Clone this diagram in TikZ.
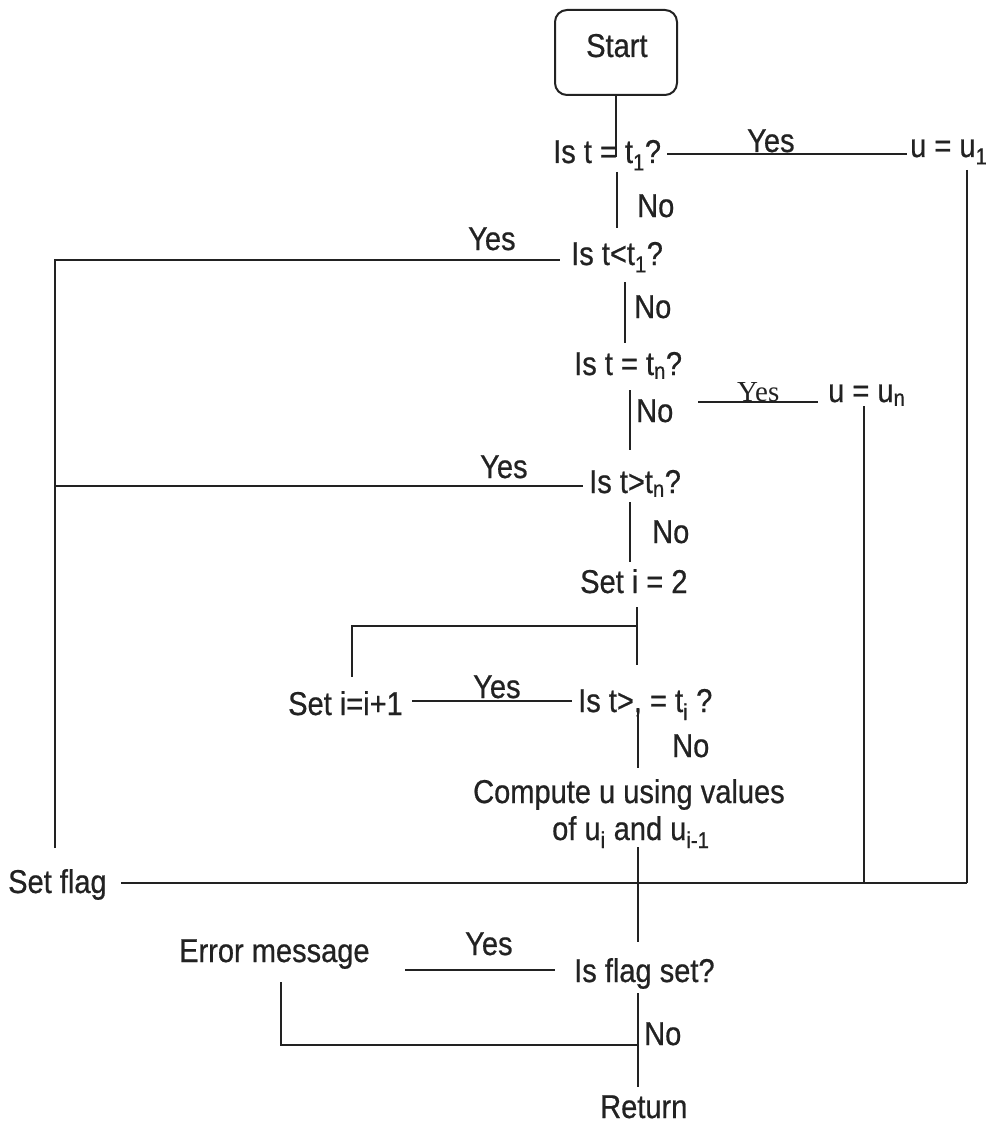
\documentclass[tikz,border=0pt]{standalone}
\usepackage{fontspec}
\setmainfont[FakeStretch=0.88,FakeBold=0.6]{Liberation Sans}
\newfontfamily\serifyes{Liberation Serif}
\definecolor{ink}{HTML}{222222}
\tikzset{
  txt/.style={anchor=base west, inner sep=0pt, text=ink, font=\fontsize{33}{36}\selectfont},
  styes/.style={anchor=base west, inner sep=0pt, text=ink, font=\serifyes\fontsize{29}{32}\selectfont},
  ln/.style={draw=ink, line width=2.2pt},
  startbox/.style={draw=ink, line width=2pt, rounded corners=12pt, minimum width=122pt, minimum height=85pt, inner sep=0pt}
}
\begin{document}
\begin{tikzpicture}[x=1pt,y=-1pt]
\fill[white] (0,0) rectangle (1000,1126);
\useasboundingbox (0,0) rectangle (1000,1126);

% nodes
\node[startbox] (start) at (616,52.5) {};
\node[txt] (starttxt) at (586,57) {Start};
\node[txt] (q1) at (553,163) {Is t = t\textsubscript{1}?};
\node[txt] (yes1) at (747,152) {Yes};
\node[txt] (u1) at (910,157) {u = u\textsubscript{1}};
\node[txt] (no1) at (637,217) {No};
\node[txt] (yes2) at (468,250) {Yes};
\node[txt] (q2) at (571,265) {Is t<t\textsubscript{1}?};
\node[txt] (no2) at (634,318) {No};
\node[txt] (q3) at (574,375) {Is t = t\textsubscript{n}?};
\node[txt] (no3) at (636,422) {No};
\node[styes] (yes3) at (737,401) {Yes};
\node[txt] (un) at (828,402) {u = u\textsubscript{n}};
\node[txt] (yes4) at (480,478) {Yes};
\node[txt] (q4) at (589,493) {Is t>t\textsubscript{n}?};
\node[txt] (no4) at (652,543) {No};
\node[txt] (seti) at (580,593) {Set i = 2};
\node[txt] (inc) at (288,715) {Set i=i+1};
\node[txt] (yes5) at (473,698) {Yes};
\node[txt] (q5) at (578,712) {Is t>, = t\textsubscript{i} ?};
\node[txt] (no5) at (672,757) {No};
\node[txt] (comp1) at (473,803) {Compute u using values};
\node[txt] (comp2) at (552,840) {of u\textsubscript{i} and u\textsubscript{i-1}};
\node[txt] (flag) at (8,893) {Set flag};
\node[txt] (err) at (179,962) {Error message};
\node[txt] (yes6) at (465,955) {Yes};
\node[txt] (q6) at (574,982) {Is flag set?};
\node[txt] (no6) at (644,1045) {No};
\node[txt] (ret) at (600,1118) {Return};

% junction coordinates
\coordinate (a1) at (616,157);
\coordinate (b1) at (667,154);
\coordinate (b2) at (907,154);
\coordinate (r1) at (967,170);
\coordinate (r2) at (967,883);
\coordinate (n1a) at (617,172);
\coordinate (n1b) at (617,228);
\coordinate (l1) at (55,260);
\coordinate (l1e) at (560,260);
\coordinate (l2) at (55,848);
\coordinate (n2a) at (625,282);
\coordinate (n2b) at (625,343);
\coordinate (n3a) at (630,390);
\coordinate (n3b) at (630,450);
\coordinate (y3a) at (698,402);
\coordinate (y3b) at (818,402);
\coordinate (v1) at (864,406);
\coordinate (v2) at (864,883);
\coordinate (l3) at (55,486);
\coordinate (l3e) at (583,486);
\coordinate (n4a) at (630,502);
\coordinate (n4b) at (630,562);
\coordinate (p1) at (637,607);
\coordinate (p2) at (637,626);
\coordinate (p3) at (637,665);
\coordinate (p4) at (352,626);
\coordinate (p5) at (352,677);
\coordinate (y5a) at (412,701);
\coordinate (y5b) at (572,701);
\coordinate (n5a) at (638,708);
\coordinate (n5b) at (638,768);
\coordinate (c1) at (638,847);
\coordinate (c2) at (638,942);
\coordinate (f1) at (121,883);
\coordinate (y6a) at (405,970);
\coordinate (y6b) at (555,970);
\coordinate (d1) at (638,993);
\coordinate (d2) at (638,1045);
\coordinate (d3) at (638,1087);
\coordinate (e1) at (281,1045);
\coordinate (e2) at (281,982);

% connectors
\draw[ln] (start.south) -- (a1);
\draw[ln] (b1) -- (b2);
\draw[ln] (r1) -- (r2);
\draw[ln] (n1a) -- (n1b);
\draw[ln] (l2) -- (l1) -- (l1e);
\draw[ln] (n2a) -- (n2b);
\draw[ln] (n3a) -- (n3b);
\draw[ln] (y3a) -- (y3b);
\draw[ln] (v1) -- (v2);
\draw[ln] (l3) -- (l3e);
\draw[ln] (n4a) -- (n4b);
\draw[ln] (p1) -- (p3);
\draw[ln] (p2) -- (p4) -- (p5);
\draw[ln] (y5a) -- (y5b);
\draw[ln] (n5a) -- (n5b);
\draw[ln] (c1) -- (c2);
\draw[ln] (f1) -- (r2);
\draw[ln] (y6a) -- (y6b);
\draw[ln] (d1) -- (d3);
\draw[ln] (d2) -- (e1) -- (e2);
\end{tikzpicture}
\end{document}
